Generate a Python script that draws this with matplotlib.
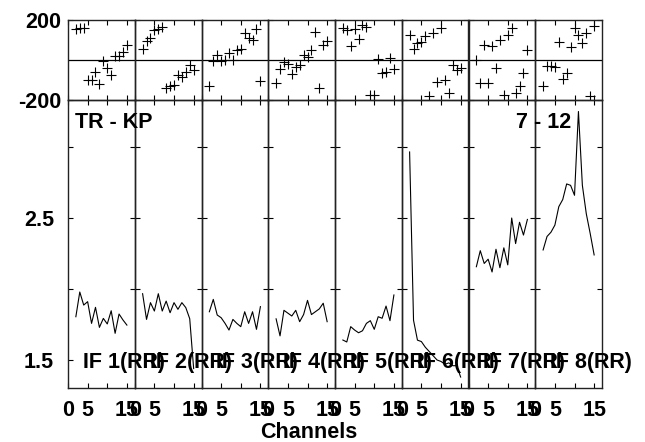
import matplotlib
matplotlib.use("Agg")
import matplotlib.pyplot as plt

plt.rcParams['font.family'] = ['Liberation Sans', 'DejaVu Sans']
plt.rcParams['font.weight'] = 'bold'

channels = [2, 3, 4, 5, 6, 7, 8, 9, 10, 11, 12, 13, 14, 15]

if_labels = ["IF 1(RR)", "IF 2(RR)", "IF 3(RR)", "IF 4(RR)",
             "IF 5(RR)", "IF 6(RR)", "IF 7(RR)", "IF 8(RR)"]

phase_if1 = [155, 158, 162, -100, -100, -62, -122, -5, -42, -75, 22, 22, 38, 75]
phase_if2 = [53, 95, 112, 150, 155, 167, -142, -130, -125, -75, -83, -62, -25, -50]
phase_if3 = [-130, -3, 25, -3, 0, 33, 0, 50, 53, 133, 108, 100, 153, -105]
phase_if4 = [-115, -45, -10, -22, -72, -35, -25, 25, 17, 50, 138, -142, 75, 96]
phase_if5 = [158, 150, 70, 155, 106, 177, 167, -173, -173, 6, -65, -58, 12, -43]
phase_if6 = [125, 53, 83, 92, 120, -180, 133, -108, 158, -100, -167, -25, -50, -42]
phase_if7 = [0, -113, 77, -116, 71, -40, 98, -174, 125, 158, -163, -130, -63, 50]
phase_if8 = [-130, -30, -30, -33, 92, -97, -63, 67, 158, 125, 83, 133, -180, 170]

amp_if1 = [1.805, 1.979, 1.887, 1.911, 1.758, 1.871, 1.730, 1.793, 1.754, 1.847, 1.688, 1.824, 1.782, 1.746]
amp_if2 = [1.967, 1.786, 1.904, 1.845, 1.967, 1.845, 1.915, 1.833, 1.904, 1.857, 1.904, 1.869, 1.791, 1.440]
amp_if3 = [1.840, 1.927, 1.817, 1.798, 1.758, 1.711, 1.786, 1.758, 1.735, 1.840, 1.758, 1.840, 1.716, 1.876]
amp_if4 = [1.79, 1.67, 1.85, 1.83, 1.81, 1.85, 1.77, 1.82, 1.92, 1.82, 1.84, 1.86, 1.90, 1.77]
amp_if5 = [1.641, 1.627, 1.735, 1.711, 1.692, 1.706, 1.758, 1.777, 1.716, 1.805, 1.794, 1.880, 1.777, 1.958]
amp_if6 = [2.965, 1.78, 1.64, 1.63, 1.59, 1.56, 1.53, 1.50, 1.49, 1.47, 1.48, 1.46, 1.46, 1.38]
amp_if7 = [2.157, 2.27, 2.18, 2.21, 2.12, 2.28, 2.15, 2.29, 2.17, 2.50, 2.32, 2.47, 2.38, 2.49]
amp_if8 = [2.275, 2.37, 2.40, 2.45, 2.58, 2.63, 2.74, 2.73, 2.66, 3.25, 2.73, 2.53, 2.39, 2.24]

phases = [phase_if1, phase_if2, phase_if3, phase_if4, phase_if5, phase_if6, phase_if7, phase_if8]
amps = [amp_if1, amp_if2, amp_if3, amp_if4, amp_if5, amp_if6, amp_if7, amp_if8]

W, H = 645, 442
fig = plt.figure(figsize=(W / 100, H / 100), dpi=100)

x0, x1 = 68, 602
pw = (x1 - x0) / 8.0
FS = 15.5

def px_rect(left, top, width, height):
    return [left / W, 1 - (top + height) / H, width / W, height / H]

for i in range(8):
    left = x0 + i * pw
    axp = fig.add_axes(px_rect(left, 20, pw, 80))
    axa = fig.add_axes(px_rect(left, 100, pw, 288))
    axp.patch.set_visible(False)
    axa.patch.set_visible(False)

    # phase panel
    axp.plot(channels, phases[i], linestyle='none', marker='+', color='black',
             markersize=6.5, markeredgewidth=0.8)
    axp.axhline(0, color='black', lw=0.9)
    axp.set_xlim(0, 17)
    axp.set_ylim(-200, 200)
    axp.set_xticks([0, 5, 10, 15])
    axp.set_xticklabels([])
    axp.set_yticks([-200, 200])
    if i == 0:
        axp.set_yticklabels(['-200', '200'], fontsize=FS, fontweight='bold')
    else:
        axp.set_yticklabels([])

    # amplitude panel
    axa.plot(channels, amps[i], color='black', lw=0.8)
    axa.set_xlim(0, 17)
    axa.set_ylim(1.303, 3.331)
    axa.set_xticks([0, 5, 10, 15])
    axa.set_xticklabels(['0', '5', '', '15'], fontsize=FS, fontweight='bold')
    axa.set_yticks([1.5, 2.0, 2.5, 3.0])
    if i == 0:
        axa.set_yticklabels(['1.5', '', '2.5', ''], fontsize=FS, fontweight='bold')
    else:
        axa.set_yticklabels([])

    for ax in (axp, axa):
        ax.tick_params(direction='in', length=3.8, width=0.8, top=True, right=True)
        for s in ax.spines.values():
            s.set_linewidth(1.0)
            s.set_color('#222222')
    axp.tick_params(axis='y', pad=5)
    axa.tick_params(axis='y', pad=10)
    axa.tick_params(axis='x', pad=9)

for i in range(8):
    left = x0 + i * pw
    fig.text((left + 15) / W, 1 - 368 / H, if_labels[i], fontsize=FS,
             fontweight='bold', ha='left', va='baseline', zorder=10)

fig.text((x0 + 7) / W, 1 - 128 / H, "TR - KP", fontsize=FS, fontweight='bold',
         ha='left', va='baseline', zorder=10)
fig.text(516 / W, 1 - 128 / H, "7 - 12", fontsize=FS, fontweight='bold',
         ha='left', va='baseline', zorder=10)
fig.text(309 / W, 1 - 438 / H, "Channels", fontsize=FS, fontweight='bold',
         ha='center', va='baseline', zorder=10)

fig.savefig("out.png", dpi=100)
